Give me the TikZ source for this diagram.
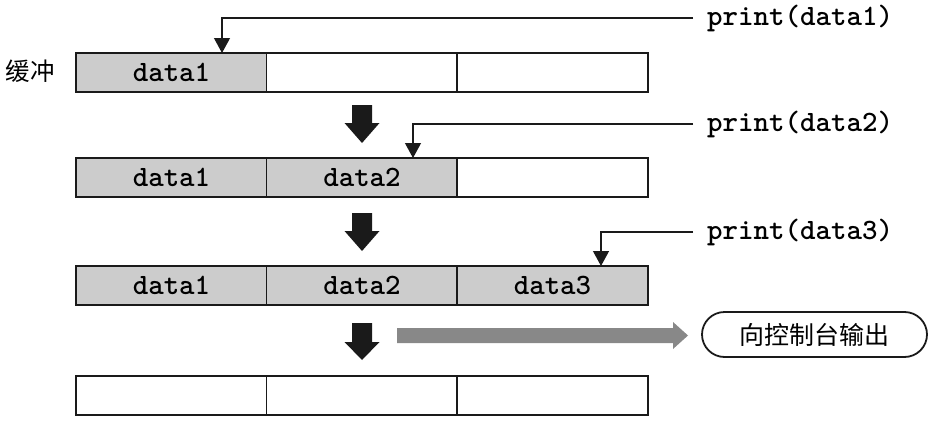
\documentclass[tikz,border=0pt]{standalone}
\usepackage{fontspec}
\newfontfamily\cjk{Noto Sans CJK SC}
\newfontfamily\codefont{lmmonolt10-bold.otf}
\usetikzlibrary{arrows.meta,calc,shapes.misc}

\definecolor{cellgray}{HTML}{CCCCCC}
\definecolor{flowgray}{HTML}{888888}
\definecolor{inkblack}{HTML}{1A1A1A}

% slab-serif typewriter face
\newcommand{\codeface}{\fontsize{29.5}{29.5}\codefont}

\begin{document}
\begin{tikzpicture}[x=1pt,y=-1pt,
  cell/.style={draw=inkblack, line width=1.8pt, minimum width=191pt,
    minimum height=39pt, inner sep=0pt, outer sep=0pt,
    font=\codeface},
  full/.style={cell, fill=cellgray},
  vacant/.style={cell, fill=white},
  frame/.style={draw=inkblack, line width=2.6pt},
  call/.style={anchor=west, inner sep=0pt, font=\codeface},
  ptr/.style={draw=inkblack, line width=1.2pt,
    -{Triangle[length=15pt,width=16pt]}},
  blockdown/.style={fill=inkblack},
  outbox/.style={draw=inkblack, line width=1.8pt, rounded rectangle,
    minimum width=225pt, minimum height=45pt, inner sep=0pt,
    font=\fontsize{25}{25}\cjk}
]
\useasboundingbox (0,0) rectangle (932,423);

% buffer label
\node[font=\fontsize{24.5}{24.5}\cjk, inner sep=0pt] (buf) at (30,71) {缓冲};

% buffer rows: row 1 to row 4
\node[full]   (r1c1) at (171.5,72.5) {data1};
\node[vacant] (r1c2) at (362,72.5) {};
\node[vacant] (r1c3) at (552.5,72.5) {};

\node[full]   (r2c1) at (171.5,177.5) {data1};
\node[full]   (r2c2) at (362,177.5) {data2};
\node[vacant] (r2c3) at (552.5,177.5) {};

\node[full]   (r3c1) at (171.5,285.5) {data1};
\node[full]   (r3c2) at (362,285.5) {data2};
\node[full]   (r3c3) at (552.5,285.5) {data3};

\node[vacant] (r4c1) at (171.5,395.5) {};
\node[vacant] (r4c2) at (362,395.5) {};
\node[vacant] (r4c3) at (552.5,395.5) {};

\foreach \r in {1,2,3,4}
  \draw[frame] (r\r c1.north west) rectangle (r\r c3.south east);

% print calls feeding the buffer
\node[call] (p1) at (707,18)  {print(data1)};
\node[call] (p2) at (707,124) {print(data2)};
\node[call] (p3) at (707,232) {print(data3)};

\coordinate (in1) at (222,53);
\coordinate (in2) at (413,158);
\coordinate (in3) at (601,266);

\draw[ptr] ([xshift=-14pt]p1.west) -| (in1);
\draw[ptr] ([xshift=-14pt]p2.west) -| (in2);
\draw[ptr] ([xshift=-14pt]p3.west) -| (in3);

% downward block arrows between rows
\foreach \yt/\yh/\yp in {105/123/143, 213/231/251, 323/342/360}
  \fill[blockdown] (352,\yt) -- (372,\yt) -- (372,\yh) -- (379.5,\yh)
    -- (362,\yp) -- (344.5,\yh) -- (352,\yh) -- cycle;

% flush to console
\node[outbox] (out) at (814.5,334.5) {向控制台输出};
\fill[flowgray] (397,328) -- (673,328) -- (673,322) -- (688,335.5)
  -- (673,349) -- (673,343) -- (397,343) -- cycle;
\end{tikzpicture}
\end{document}
